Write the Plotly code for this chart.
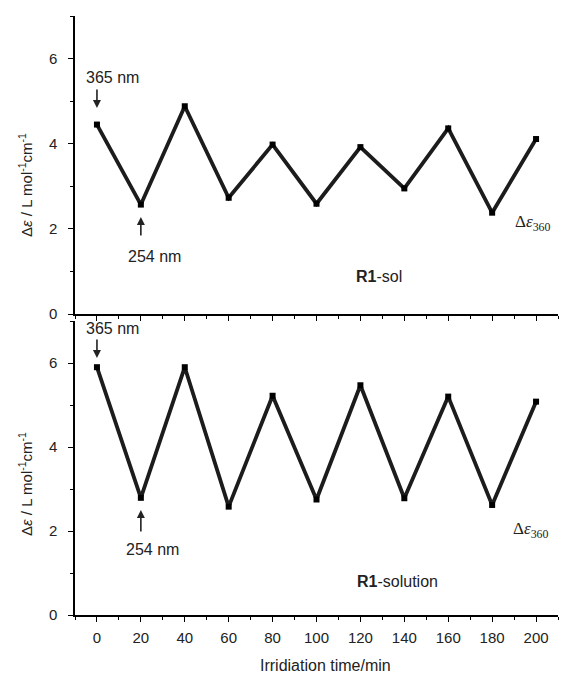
import plotly.graph_objects as go

time_min = [0, 20, 40, 60, 80, 100, 120, 140, 160, 180, 200]
sol_values = [4.45, 2.57, 4.88, 2.73, 3.98, 2.59, 3.92, 2.95, 4.36, 2.38, 4.11]
solution_values = [5.90, 2.79, 5.90, 2.58, 5.22, 2.75, 5.47, 2.78, 5.20, 2.62, 5.08]
x_ticks = [0, 20, 40, 60, 80, 100, 120, 140, 160, 180, 200]
y_ticks = [0, 2, 4, 6]

FONT = "Liberation Sans, Arial, sans-serif"
SERIF = "Liberation Serif, Times New Roman, serif"
LINE = "#1c1c1c"

fig = go.Figure()
for vals, xa, ya in [(sol_values, "x", "y"), (solution_values, "x2", "y2")]:
    fig.add_trace(go.Scatter(
        x=time_min, y=vals, xaxis=xa, yaxis=ya, mode="lines+markers",
        line=dict(color=LINE, width=3.8),
        marker=dict(symbol="square", size=6, color="black"),
        showlegend=False, hoverinfo="skip"))

plot_h = 599.0
top_dom = [(615 - 314) / plot_h, 1.0]
bot_dom = [0.0, (615 - 321) / plot_h]

xcommon = dict(range=[-10, 210], tickmode="array", tickvals=x_ticks,
               ticks="outside", ticklen=5, tickwidth=1.2, tickcolor="black",
               showline=True, linecolor="black", linewidth=1.5,
               showgrid=False, zeroline=False,
               minor=dict(dtick=10, tick0=0, ticks="outside", ticklen=3,
                          tickwidth=1.2, tickcolor="black", showgrid=False),
               tickfont=dict(family=FONT, size=15, color="#222"))
ycommon = dict(range=[0, 7], tickmode="array", tickvals=y_ticks,
               ticks="outside", ticklen=5, tickwidth=1.2, tickcolor="black",
               showline=True, linecolor="black", linewidth=1.5,
               showgrid=False, zeroline=False, ticklabelstandoff=8,
               minor=dict(dtick=1, tick0=0, ticks="outside", ticklen=3,
                          tickwidth=1.2, tickcolor="black", showgrid=False),
               tickfont=dict(family=FONT, size=15, color="#222"))

fig.update_layout(
    width=562, height=675,
    margin=dict(l=75, r=4, t=16, b=60),
    paper_bgcolor="white", plot_bgcolor="white",
    xaxis=dict(**xcommon, anchor="y", showticklabels=False),
    yaxis=dict(**ycommon, domain=top_dom, anchor="x"),
    xaxis2=dict(**xcommon, anchor="y2", ticklabelstandoff=3),
    yaxis2=dict(**ycommon, domain=bot_dom, anchor="x2"),
)

txt = dict(family=FONT, size=16, color="#222")
eps = dict(family=SERIF, size=17, color="#222")
C = dict(xanchor="center", yanchor="middle", showarrow=False)
ARR = dict(text="", showarrow=True, ax=0, arrowhead=2, arrowsize=1,
           arrowwidth=1.6, arrowcolor="#222")

ann = [
    # top panel
    dict(x=7.1, y=5.56, xref="x", yref="y", text="365 nm", font=txt, **C),
    dict(x=0, y=4.84, xref="x", yref="y", ay=-20, **ARR),
    dict(x=26.3, y=1.34, xref="x", yref="y", text="254 nm", font=txt, **C),
    dict(x=20, y=2.28, xref="x", yref="y", ay=20, **ARR),
    dict(x=198.6, y=2.14, xref="x", yref="y", text="Δ<i>ε</i><sub>360</sub>",
         font=eps, **C),
    dict(x=128.6, y=0.87, xref="x", yref="y", text="<b>R1</b>-sol", font=txt, **C),
    # bottom panel
    dict(x=7.1, y=6.81, xref="x2", yref="y2", text="365 nm", font=txt, **C),
    dict(x=0, y=6.12, xref="x2", yref="y2", ay=-20, **ARR),
    dict(x=25.3, y=1.55, xref="x2", yref="y2", text="254 nm", font=txt, **C),
    dict(x=20, y=2.5, xref="x2", yref="y2", ay=23, **ARR),
    dict(x=197.7, y=2.02, xref="x2", yref="y2", text="Δ<i>ε</i><sub>360</sub>",
         font=eps, **C),
    dict(x=136.8, y=0.79, xref="x2", yref="y2", text="<b>R1</b>-solution",
         font=txt, **C),
]
ytitle = "Δ<i>ε</i> / L mol<sup>-1</sup>cm<sup>-1</sup>"
yfont = dict(family=FONT, size=15, color="#222")
ann += [
    dict(x=(25 - 75) / 483, y=(615 - 185) / plot_h, xref="paper", yref="paper",
         text=ytitle, textangle=-90, font=yfont, **C),
    dict(x=(25 - 75) / 483, y=(615 - 484) / plot_h, xref="paper", yref="paper",
         text=ytitle, textangle=-90, font=yfont, **C),
    dict(x=(325 - 75) / 483, y=(615 - 665) / plot_h, xref="paper", yref="paper",
         text="Irridiation time/min", font=txt, **C),
]
fig.update_layout(annotations=ann)

fig.write_html("out.html")
